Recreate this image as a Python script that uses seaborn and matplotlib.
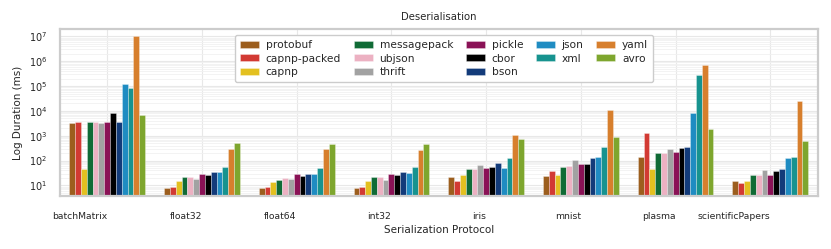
import numpy as np
import pandas as pd
import matplotlib
matplotlib.use("Agg")
import matplotlib.pyplot as plt
import seaborn as sns

categories = ["batchMatrix", "float32", "float64", "int32", "iris", "mnist", "plasma", "scientificPapers"]
protocols = ["protobuf", "capnp-packed", "capnp", "messagepack", "ubjson", "thrift",
             "pickle", "cbor", "bson", "json", "xml", "yaml", "avro"]

protobuf = [3400, 7.8, 7.6, 7.6, 21, 23, 135, 15.5]
capnp_packed = [3700, 9, 9, 9, 14.5, 37, 1320, 13]
capnp = [45, 14.5, 14, 14.5, 26, 26, 45, 15.5]
messagepack = [3500, 22, 17, 21, 45, 55, 205, 26]
ubjson = [3500, 22.5, 20, 22, 48, 63, 205, 26]
thrift = [3300, 18, 17.5, 17, 65, 103, 290, 43.5]
pickle = [3500, 30, 29, 28, 52, 73, 218, 26]
cbor = [8300, 27, 23, 26, 57, 73, 316, 37]
bson = [3500, 34, 29, 34, 83, 132, 340, 46]
json_ = [123000, 34, 30, 32, 49, 140, 8500, 124]
xml = [85000, 57, 52, 54, 123, 350, 290000, 135]
yaml = [1e7, 290, 290, 270, 1070, 10700, 720000, 24500]
avro = [6700, 500, 470, 460, 720, 890, 1800, 590]

colors = ["#9c5e1e", "#d23a33", "#e3c020", "#106b36", "#ecb1c2", "#a2a2a2",
          "#8a1256", "#000000", "#133b7a", "#1f8cc2", "#17938f", "#d77f2d", "#7ea62e"]

series = [protobuf, capnp_packed, capnp, messagepack, ubjson, thrift,
          pickle, cbor, bson, json_, xml, yaml, avro]

rows = []
for name, vals in zip(protocols, series):
    for cat, v in zip(categories, vals):
        rows.append({"category": cat, "protocol": name, "duration": v})
df = pd.DataFrame(rows)

sns.set_theme(style="whitegrid")
plt.rcParams["font.family"] = ["DejaVu Sans"]

fig = plt.figure(figsize=(8.31, 2.49), dpi=100)
ax = fig.add_axes([0.072, 0.213, 0.912, 0.671])

sns.barplot(data=df, x="category", y="duration", hue="protocol",
            hue_order=protocols, order=categories,
            palette=dict(zip(protocols, colors)), saturation=1,
            edgecolor=(1, 1, 1, 0.35), linewidth=0.6, ax=ax, errorbar=None)
ax.set_yscale("log")

allv = np.log10(np.concatenate([np.array(s, dtype=float) for s in series]))
lo, hi = allv.min(), allv.max()
m = 0.05 * (hi - lo)
ax.set_ylim(10 ** (lo - m), 10 ** (hi + m))
ax.set_xlim(-0.5, len(categories) - 0.5)

ax.grid(True, which="major", color="#e8e8e8", linewidth=0.8)
ax.grid(True, which="minor", axis="y", color="#f1f1f1", linewidth=0.6)
ax.set_axisbelow(True)
for s in ax.spines.values():
    s.set_color("#cccccc")
    s.set_linewidth(1.6)

ax.tick_params(axis="x", labelsize=6.7, pad=5.5)
ax.tick_params(axis="y", labelsize=7, pad=3)
for lab in ax.get_xticklabels():
    lab.set_horizontalalignment("right")

ax.set_title("Deserialisation", fontsize=7.3, pad=6.5)
ax.set_xlabel("Serialization Protocol", fontsize=7.5, labelpad=3)
ax.set_ylabel("Log Duration (ms)", fontsize=7.5, labelpad=4)

ax.legend(loc="upper center", ncol=5, fontsize=7.7, frameon=True,
          handlelength=1.75, handleheight=0.6, columnspacing=1.2,
          labelspacing=0.35, borderpad=0.45, handletextpad=0.65,
          edgecolor="#cccccc", framealpha=1, bbox_to_anchor=(0.507, 0.995))

fig.savefig("out.png", dpi=100)
